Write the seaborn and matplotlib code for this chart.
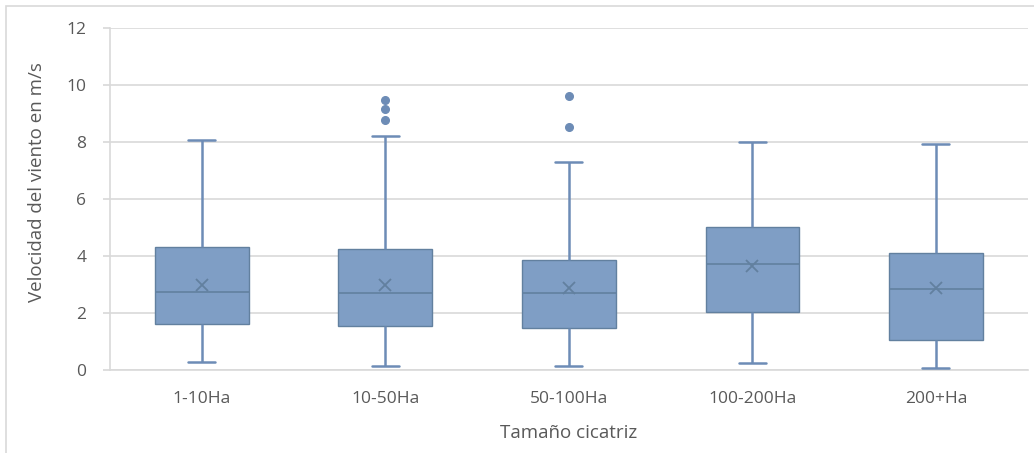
import numpy as np
import pandas as pd
import matplotlib
matplotlib.use("Agg")
import matplotlib.pyplot as plt
from matplotlib.patches import Rectangle
import seaborn as sns

# Box-plot summary per burn-scar size class (wind speed, m/s)
categories = ["1-10Ha", "10-50Ha", "50-100Ha", "100-200Ha", "200+Ha"]
whisker_low = [0.27, 0.15, 0.15, 0.25, 0.08]
q1 = [1.63, 1.56, 1.46, 2.05, 1.07]
median = [2.75, 2.71, 2.71, 3.73, 2.84]
q3 = [4.33, 4.25, 3.87, 5.03, 4.12]
whisker_high = [8.08, 8.22, 7.31, 8.00, 7.93]
means = [2.98, 2.99, 2.88, 3.66, 2.87]
outliers = [[], [8.78, 9.15, 9.47], [8.53, 9.60], [], []]

y_ticks = [0, 2, 4, 6, 8, 10, 12]
x_label = "Tamaño cicatriz"
y_label = "Velocidad del viento en m/s"

# Long-form table whose quartiles / whiskers reproduce the summary above
# (17 values per group: percentiles fall exactly on positions 4, 8 and 12).
rows = []
for cat, lo, a, m, b, hi, out in zip(categories, whisker_low, q1, median, q3,
                                     whisker_high, outliers):
    vals = [lo] + [a] * 4 + [m] * 4 + [b] * 4 + [hi] * (4 - len(out)) + list(out)
    rows += [(cat, v) for v in vals]
df = pd.DataFrame(rows, columns=["size", "speed"])

FILL = "#7f9ec5"
EDGE = "#62809f"
WHISK = "#6d8cb6"
TEXT = "#595959"
GRID = "#d9d9d9"

sns.set_theme(style="white")
plt.rcParams["font.family"] = ["Open Sans", "DejaVu Sans"]

fig = plt.figure(figsize=(10.34, 4.53), dpi=100)
ax = fig.add_axes([0.1064, 0.1832, 0.8874, 0.7550])

sns.boxplot(
    data=df, x="size", y="speed", order=categories, ax=ax,
    color=FILL, saturation=1, width=0.51, linewidth=1.0, whis=1.5,
    boxprops=dict(facecolor=FILL, edgecolor=EDGE, linewidth=1.0),
    medianprops=dict(color=EDGE, linewidth=1.2),
    whiskerprops=dict(color=WHISK, linewidth=1.8),
    capprops=dict(color=WHISK, linewidth=1.8),
    flierprops=dict(marker="o", markerfacecolor=WHISK, markeredgecolor=WHISK,
                    markersize=5.5),
    zorder=3,
)

# Shorten whisker caps
for line in ax.lines:
    xd = np.asarray(line.get_xdata(), dtype=float)
    yd = np.asarray(line.get_ydata(), dtype=float)
    if len(xd) == 2 and yd[0] == yd[1] and xd[0] != xd[1]:
        c = xd.mean()
        # caps are shorter than the median lines (box width)
        if abs(xd[1] - xd[0]) < 0.45:
            line.set_xdata([c - 0.074, c + 0.074])

# Mean markers
sns.pointplot(x=categories, y=means, order=categories, ax=ax,
              linestyle="none", markers="x", color=EDGE, errorbar=None,
              markersize=9, markeredgewidth=1.3, zorder=5)

ax.set_ylim(0, 12)
ax.set_xlim(-0.5, 4.5)
ax.set_yticks(y_ticks)
ax.set_yticklabels([str(t) for t in y_ticks])
ax.yaxis.grid(True, color=GRID, linewidth=1.2, zorder=0)
ax.set_axisbelow(True)

for side in ["top", "right"]:
    ax.spines[side].set_visible(False)
for side in ["left", "bottom"]:
    ax.spines[side].set_color(GRID)
    ax.spines[side].set_linewidth(1.2)

ax.tick_params(axis="y", length=5, color=GRID, labelsize=12.5, labelcolor=TEXT,
               pad=12, left=True)
ax.tick_params(axis="x", length=0, labelsize=12.5, labelcolor=TEXT, pad=15)
ax.set_xlabel(x_label, fontsize=13.5, color=TEXT, labelpad=12)
ax.set_ylabel(y_label, fontsize=13.5, color=TEXT)
ax.yaxis.set_label_coords(-0.07, 0.55)

# Chart frame
fig.add_artist(Rectangle((6 / 1034, -0.1), 1.2, 1.1 - 6 / 453,
                         transform=fig.transFigure, fill=False,
                         edgecolor=GRID, linewidth=1.2))

fig.savefig("out.png", dpi=100)
